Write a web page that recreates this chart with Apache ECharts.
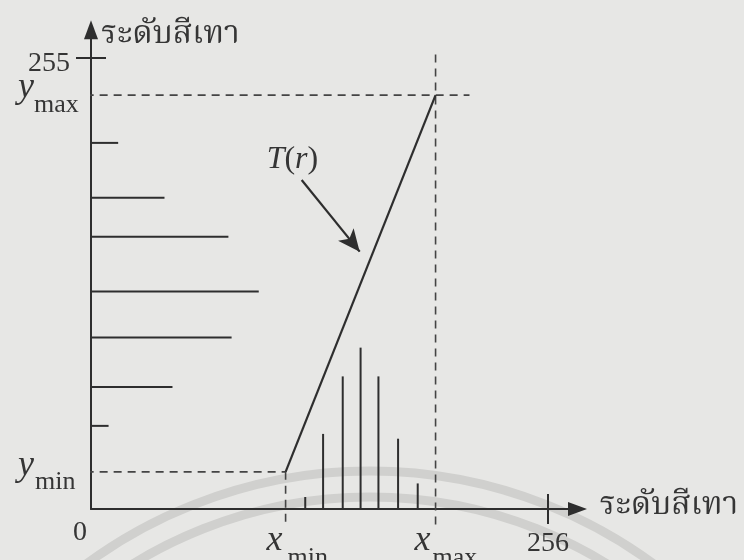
<!DOCTYPE html>
<html>
<head>
<meta charset="utf-8">
<script src="https://cdn.jsdelivr.net/npm/echarts@6/dist/echarts.min.js"></script>
<style>
  html, body { margin: 0; padding: 0; background: #e7e7e5; }
  #chart { width: 744px; height: 560px; }
</style>
</head>
<body>
<div id="chart"></div>
<script>
// Contrast stretching: gray levels in [xMin, xMax] are mapped linearly onto [yMin, yMax]
const axisTitle = 'ระดับสีเทา';
const xTickValues = [256];
const yTickValues = [255];
const xMin = 109, xMax = 193;
const yMin = 21, yMax = 234;

// histogram of the input image (gray level, pixel count)
const inputLevels = [120, 130, 141, 151, 161, 172, 183];
const inputCounts = [7.5, 47, 83, 101, 83, 44, 16];

// histogram after stretching (gray level, pixel count)
const outputLevels = [47, 69, 97, 123, 154, 176, 207];
const outputCounts = [11, 51, 88, 105, 86, 46, 17];

const INK = '#2e2e2e';
const TEXT = '#353535';
const SERIF = "'Liberation Serif', 'DejaVu Serif', serif";
const THAI = "'Noto Serif Thai', 'Noto Sans Thai Looped', 'Norasi', 'Kinnari', 'Tlwg Typo', 'Garuda', 'Loma', 'Noto Sans Thai', serif";

const grid = { left: 91, top: 29.7, width: 486.5, height: 479.3 };
const levelMaxX = 272.5, levelMaxY = 271;
const countMaxY = 300;
const countMaxX = countMaxY * grid.width / grid.height;

const chart = echarts.init(document.getElementById('chart'), null, { renderer: 'canvas' });

function stem(horizontal) {
  return function (params, api) {
    const a = api.value(0), b = api.value(1);
    const p0 = api.coord(horizontal ? [0, b] : [a, 0]);
    const p1 = api.coord([a, b]);
    return {
      type: 'line',
      shape: { x1: p0[0], y1: p0[1], x2: p1[0], y2: p1[1] },
      style: { stroke: INK, lineWidth: 2 }
    };
  };
}

function guide(points) {
  return {
    type: 'line',
    data: points,
    symbol: 'none',
    clip: false,
    silent: true,
    lineStyle: { color: '#444444', width: 1.6, type: [8, 6] },
    z: 3
  };
}

const axisLineStyle = { color: INK, width: 2 };

chart.setOption({
  animation: false,
  backgroundColor: '#e7e7e5',
  grid: Object.assign({ containLabel: false, outerBoundsMode: 'none' }, grid),
  xAxis: [
    {
      type: 'value', min: 0, max: levelMaxX, position: 'bottom',
      name: axisTitle, nameLocation: 'end', nameGap: 22,
      nameTextStyle: { fontFamily: THAI, fontSize: 32, color: TEXT, align: 'left', verticalAlign: 'middle' },
      axisLine: { show: true, onZero: false, symbol: ['none', 'triangle'], symbolSize: [14, 19], lineStyle: axisLineStyle },
      axisTick: { show: true, customValues: xTickValues, length: 15, inside: false, lineStyle: axisLineStyle },
      axisLabel: { show: true, customValues: xTickValues, margin: 21, fontFamily: SERIF, fontSize: 28, color: TEXT },
      splitLine: { show: false }
    },
    {
      type: 'value', min: 0, max: levelMaxX, position: 'top',
      axisLine: { show: false, onZero: true },
      axisTick: { show: true, customValues: xTickValues, length: 15, inside: false, lineStyle: axisLineStyle },
      axisLabel: { show: false },
      splitLine: { show: false }
    },
    { type: 'value', min: 0, max: countMaxX, show: false, splitLine: { show: false } }
  ],
  yAxis: [
    {
      type: 'value', min: 0, max: levelMaxY, position: 'left',
      name: axisTitle, nameLocation: 'end', nameGap: -8,
      nameTextStyle: { fontFamily: THAI, fontSize: 32, color: TEXT, align: 'left', verticalAlign: 'middle', padding: [0, 0, 0, 10] },
      axisLine: { show: true, onZero: false, symbol: ['none', 'triangle'], symbolSize: [14, 19], lineStyle: axisLineStyle },
      axisTick: { show: true, customValues: yTickValues, length: 15, inside: false, lineStyle: axisLineStyle },
      axisLabel: { show: true, customValues: yTickValues, margin: 21, verticalAlign: 'top', lineHeight: 12, fontFamily: SERIF, fontSize: 28, color: TEXT },
      splitLine: { show: false }
    },
    {
      type: 'value', min: 0, max: levelMaxY, position: 'right',
      axisLine: { show: false, onZero: true },
      axisTick: { show: true, customValues: yTickValues, length: 15, inside: false, lineStyle: axisLineStyle },
      axisLabel: { show: false },
      splitLine: { show: false }
    },
    { type: 'value', min: 0, max: countMaxY, show: false, splitLine: { show: false } }
  ],
  series: [
    guide([[-3, yMax], [212, yMax]]),
    guide([[-3, yMin], [xMin, yMin]]),
    guide([[xMin, yMin], [xMin, -9]]),
    guide([[xMax, 257], [xMax, -9]]),
    {
      name: 'T(r)',
      type: 'line',
      data: [[xMin, yMin], [xMax, yMax]],
      symbol: 'none',
      lineStyle: { color: INK, width: 2.2 },
      z: 4,
      markLine: {
        silent: true,
        symbol: ['none', 'arrow'],
        symbolSize: [15, 22],
        label: { show: false },
        lineStyle: { color: INK, width: 2.2, type: 'solid' },
        data: [[{ coord: [118, 186] }, { coord: [150.5, 145.5] }]]
      }
    },
    {
      name: 'input histogram',
      type: 'custom',
      xAxisIndex: 0, yAxisIndex: 2,
      renderItem: stem(false),
      data: inputLevels.map((v, i) => [v, inputCounts[i]]),
      z: 4
    },
    {
      name: 'output histogram',
      type: 'custom',
      xAxisIndex: 2, yAxisIndex: 0,
      renderItem: stem(true),
      data: outputLevels.map((v, i) => [outputCounts[i], v]),
      z: 4
    }
  ]
});

// annotation text anchored on the data positions
function px(x, y) { return chart.convertToPixel({ xAxisIndex: 0, yAxisIndex: 0 }, [x, y]); }

function varLabel(letter, sub, x, y, dxL, dyL, dxS, dyS) {
  return [
    { type: 'text', x: x + dxL, y: y + dyL, z: 10,
      style: { text: letter, font: 'italic 36px ' + SERIF, fill: TEXT, align: 'right', verticalAlign: 'middle' } },
    { type: 'text', x: x + dxS, y: y + dyS, z: 10,
      style: { text: sub, font: '26px ' + SERIF, fill: TEXT, align: 'left', verticalAlign: 'middle' } }
  ];
}

const origin = px(0, 0);
const pXmin = px(xMin, 0), pXmax = px(xMax, 0);
const pYmin = px(0, yMin), pYmax = px(0, yMax);
const arrowTail = px(118, 186);

const graphics = [
  { type: 'circle', z: 0, silent: true, shape: { cx: 370, cy: 950, r: 479 },
    style: { fill: 'none', stroke: '#d0d0ce', lineWidth: 9 } },
  { type: 'circle', z: 0, silent: true, shape: { cx: 370, cy: 950, r: 453 },
    style: { fill: 'none', stroke: '#d0d0ce', lineWidth: 9 } },
  { type: 'text', x: origin[0] - 11, y: origin[1] + 24, z: 10,
    style: { text: '0', font: '28px ' + SERIF, fill: TEXT, align: 'center', verticalAlign: 'middle' } },
  { type: 'text', x: arrowTail[0] - 35, y: arrowTail[1] - 20, z: 10,
    style: {
      text: '{i|T}{u|(}{i|r}{u|)}', align: 'left', verticalAlign: 'middle',
      rich: {
        i: { fontFamily: SERIF, fontSize: 32, fontStyle: 'italic', fill: TEXT },
        u: { fontFamily: SERIF, fontSize: 32, fill: TEXT }
      }
    } }
]
  .concat(varLabel('y', 'max', pYmax[0], pYmax[1], -57, -8, -57, 10))
  .concat(varLabel('y', 'min', pYmin[0], pYmin[1], -57, -6, -56, 10))
  .concat(varLabel('x', 'min', pXmin[0], pXmin[1], -3, 32, 2, 49))
  .concat(varLabel('x', 'max', pXmax[0], pXmax[1], -5, 32, -3, 49));

chart.setOption({ graphic: graphics });
</script>
</body>
</html>
